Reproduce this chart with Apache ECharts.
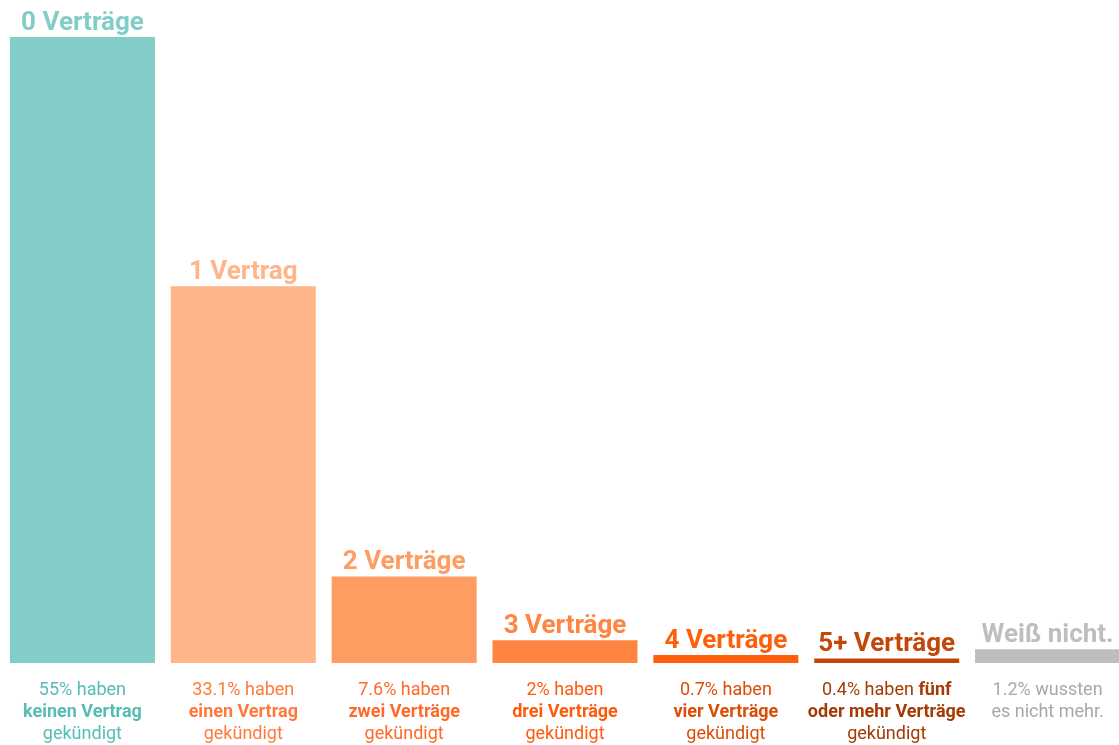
<!DOCTYPE html>
<html>
<head>
<meta charset="utf-8">
<script src="https://cdn.jsdelivr.net/npm/echarts@6/dist/echarts.min.js"></script>
<style>html,body{margin:0;padding:0;background:#fff;overflow:hidden;width:1119px;height:745px;}#c{width:1128px;height:745px;}</style>
</head>
<body>
<div id="c"></div>
<script>
const categories = ['0','1','2','3','4','5+','?'];
const values = [55, 33.1, 7.6, 2, 0.7, 0.4, 1.2];
const topLabels = ['0 Verträge','1 Vertrag','2 Verträge','3 Verträge','4 Verträge','5+ Verträge','Weiß nicht.'];
// each line: text, with '*' marking bold segments
const bottomLabels = [
  ['55% haben', '*keinen Vertrag', 'gekündigt'],
  ['33.1% haben', '*einen Vertrag', 'gekündigt'],
  ['7.6% haben', '*zwei Verträge', 'gekündigt'],
  ['2% haben', '*drei Verträge', 'gekündigt'],
  ['0.7% haben', '*vier Verträge', 'gekündigt'],
  ['0.4% haben |*fünf', '*oder mehr Verträge', 'gekündigt'],
  ['1.2% wussten', 'es nicht mehr.']
];
const barColors = ['#83CDC8','#FFB48A','#FF9C62','#FF8540','#FF5E0A','#C4470A','#BEBEBE'];
const textColors = ['#55BDB5','#FF7A3A','#FF6A28','#FF5A0C','#DC4E06','#A53A05','#A8A8A8'];

const rich = {};
textColors.forEach((c, i) => {
  rich['n' + i] = {color: c, fontSize: 18, fontFamily: 'Roboto', lineHeight: 22, fontWeight: 'normal'};
  rich['b' + i] = {color: c, fontSize: 18, fontFamily: 'Roboto', lineHeight: 22, fontWeight: 'bold'};
});

const chart = echarts.init(document.getElementById('c'));
chart.setOption({
  animation: false,
  grid: {left: 2, right: 0, top: 37, bottom: 82, containLabel: false},
  xAxis: {
    type: 'category',
    data: categories,
    axisLine: {show: false},
    axisTick: {show: false},
    axisLabel: {
      interval: 0,
      margin: 16,
      rich: rich,
      formatter: function (v, i) {
        return bottomLabels[i].map(line =>
          line.split('|').map(seg =>
            seg.charAt(0) === '*' ? '{b' + i + '|' + seg.slice(1) + '}' : '{n' + i + '|' + seg + '}'
          ).join('')
        ).join('\n');
      }
    }
  },
  yAxis: {type: 'value', min: 0, max: 55, show: false, splitLine: {show: false}},
  series: [{
    type: 'bar',
    barWidth: 145,
    data: values.map((v, i) => ({
      value: v,
      itemStyle: {color: barColors[i]},
      label: {color: barColors[i]}
    })),
    label: {
      show: true,
      position: 'top',
      distance: 1,
      fontSize: 26,
      fontWeight: 'bold',
      fontFamily: 'Roboto',
      formatter: function (p) { return topLabels[p.dataIndex]; }
    }
  }]
});
</script>
</body>
</html>
